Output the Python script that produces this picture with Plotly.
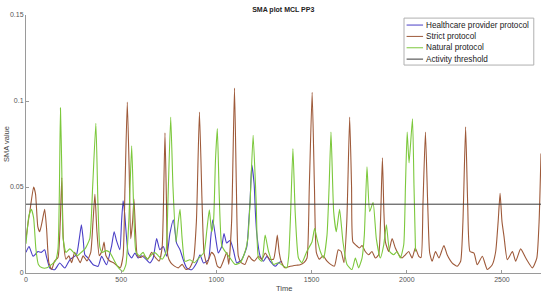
import plotly.graph_objects as go

# data (time, SMA value)
hc_t = [0, 16, 37, 50, 63, 80, 98, 107, 125, 151, 177, 204, 230, 265, 280, 291, 300, 309, 326, 353,
        379, 397, 423, 449, 463, 475, 493, 502, 510, 518, 525, 537, 555, 572, 589, 607, 633, 651, 668, 686,
        703, 721, 739, 756, 774, 791, 809, 826, 844, 870, 896, 914, 932, 958, 970, 981, 998, 1010, 1028, 1040,
        1054, 1072, 1089, 1107, 1133, 1160, 1170, 1177, 1186, 1198, 1205, 1212, 1230, 1247, 1265, 1283, 1309,
        1326, 1345]
hc_v = [0.012, 0.0154, 0.0097, 0.011, 0.0125, 0.012, 0.0135, 0.0097, 0.0029, 0.0019, 0.0058, 0.0029, 0.0077,
        0.0106, 0.02, 0.028, 0.02, 0.0106, 0.0087, 0.0048, 0.0039, 0.0097, 0.0048, 0.0154, 0.024, 0.019, 0.0135,
        0.03, 0.042, 0.035, 0.025, 0.0116, 0.0087, 0.0116, 0.0087, 0.01, 0.0077, 0.0058, 0.0087, 0.02, 0.0135,
        0.0154, 0.0097, 0.023, 0.031, 0.0174, 0.0135, 0.0077, 0.0029, 0.0019, 0.0058, 0.0106, 0.0058, 0.0077,
        0.02, 0.031, 0.019, 0.0116, 0.0154, 0.023, 0.0174, 0.019, 0.0135, 0.0058, 0.0077, 0.0154, 0.03, 0.042,
        0.0627, 0.052, 0.035, 0.023, 0.0097, 0.0068, 0.0097, 0.0068, 0.0039, 0.0058, 0.0068]

strict_t = [0, 12, 23, 40, 50, 62, 72, 85, 98, 108, 120, 135, 150, 168, 180, 188, 196, 210, 225, 240,
            255, 270, 285, 300, 320, 340, 352, 362, 372, 385, 400, 410, 420, 440, 460, 480, 495, 510, 520, 532,
            542, 550, 560, 567, 575, 585, 600, 620, 640, 660, 680, 700, 715, 722, 730, 738, 745, 760, 780, 800,
            820, 840, 860, 880, 895, 911, 925, 935, 950, 960, 975, 990, 1005, 1020, 1040, 1055, 1065, 1080, 1095,
            1105, 1115, 1130, 1150, 1170, 1185, 1200, 1221, 1240, 1256, 1280, 1300, 1312, 1320, 1330, 1340, 1360,
            1388, 1420, 1440, 1460, 1476, 1488, 1503, 1515, 1525, 1540, 1560, 1580, 1600, 1620, 1640, 1655, 1670,
            1685, 1700, 1710, 1717, 1735, 1752, 1765, 1782, 1800, 1817, 1835, 1852, 1862, 1872, 1880, 1888, 1905,
            1923, 1940, 1958, 1975, 1993, 2010, 2028, 2045, 2063, 2075, 2085, 2098, 2110, 2120, 2133, 2151, 2169,
            2195, 2212, 2239, 2265, 2283, 2295, 2309, 2320, 2332, 2353, 2370, 2397, 2423, 2449, 2467, 2480, 2490,
            2500, 2511, 2528, 2555, 2572, 2598, 2625, 2660, 2683, 2695, 2705]
strict_v = [0.02, 0.03, 0.038, 0.05, 0.046, 0.027, 0.024, 0.03, 0.037, 0.026, 0.006, 0.002, 0.007, 0.009, 0.03,
            0.0554, 0.02, 0.008, 0.01, 0.006, 0.012, 0.009, 0.006, 0.01, 0.007, 0.012, 0.03, 0.0457, 0.025, 0.01,
            0.013, 0.018, 0.01, 0.007, 0.006, 0.004, 0.003, 0.01, 0.05, 0.0994, 0.06, 0.02, 0.03, 0.043, 0.025,
            0.01, 0.009, 0.01, 0.008, 0.012, 0.009, 0.007, 0.015, 0.04, 0.0815, 0.04, 0.01, 0.006, 0.004, 0.003,
            0.005, 0.002, 0.003, 0.008, 0.03, 0.0936, 0.04, 0.012, 0.005, 0.008, 0.012, 0.01, 0.004, 0.003, 0.008,
            0.012, 0.005, 0.03, 0.1075, 0.05, 0.01, 0.006, 0.005, 0.01, 0.008, 0.007, 0.0097, 0.008, 0.0116, 0.008,
            0.008, 0.015, 0.022, 0.012, 0.0068, 0.003, 0.0039, 0.0045, 0.0048, 0.006, 0.0087, 0.05, 0.105, 0.05,
            0.012, 0.008, 0.01, 0.007, 0.005, 0.004, 0.0135, 0.0125, 0.006, 0.03, 0.0907, 0.05, 0.018, 0.016,
            0.0145, 0.016, 0.0125, 0.0106, 0.0125, 0.0087, 0.0106, 0.03, 0.067, 0.035, 0.018, 0.0125, 0.02, 0.0145,
            0.0106, 0.0087, 0.0106, 0.0125, 0.0087, 0.0145, 0.0097, 0.009, 0.04, 0.082, 0.04, 0.012, 0.0068,
            0.0125, 0.0087, 0.016, 0.0106, 0.0058, 0.0039, 0.0068, 0.03, 0.085, 0.04, 0.0125, 0.0116, 0.0048,
            0.0097, 0.002, 0.0048, 0.0125, 0.03, 0.0463, 0.03, 0.021, 0.0077, 0.0125, 0.0068, 0.014, 0.0087, 0.003,
            0.0087, 0.03, 0.0695]

natural_t = [0, 15, 28, 40, 52, 65, 85, 110, 135, 155, 168, 175, 181, 188, 195, 210, 230, 250, 270, 290,
             310, 335, 350, 367, 378, 388, 400, 420, 440, 460, 480, 495, 510, 525, 540, 555, 565, 578, 595, 615,
             635, 655, 675, 695, 715, 735, 745, 760, 772, 788, 800, 809, 820, 835, 861, 885, 910, 935, 950, 963,
             975, 985, 995, 1005, 1015, 1028, 1046, 1072, 1098, 1125, 1151, 1165, 1177, 1193, 1209, 1221, 1239,
             1256, 1274, 1300, 1326, 1353, 1370, 1380, 1390, 1402, 1414, 1431, 1449, 1475, 1502, 1516, 1528, 1546,
             1563, 1581, 1592, 1602, 1616, 1630, 1647, 1665, 1686, 1712, 1730, 1747, 1765, 1777, 1791, 1805, 1823,
             1840, 1861, 1879, 1893, 1910, 1931, 1949, 1966, 1984, 1993, 2002, 2012, 2030, 2038, 2046]
natural_v = [0.017, 0.033, 0.037, 0.032, 0.014, 0.005, 0.003, 0.003, 0.005, 0.007, 0.014, 0.045, 0.096, 0.06,
             0.02, 0.012, 0.014, 0.012, 0.01, 0.012, 0.014, 0.02, 0.05, 0.087, 0.04, 0.015, 0.012, 0.013, 0.012,
             0.008, 0.004, 0.002, 0.001, 0.005, 0.03, 0.074, 0.04, 0.012, 0.01, 0.012, 0.008, 0.01, 0.012, 0.01,
             0.008, 0.012, 0.04, 0.0907, 0.05, 0.018, 0.03, 0.037, 0.02, 0.0068, 0.0077, 0.006, 0.009, 0.012, 0.025,
             0.0367, 0.024, 0.03, 0.065, 0.084, 0.045, 0.016, 0.0125, 0.0087, 0.005, 0.006, 0.0125, 0.02, 0.041,
             0.08, 0.041, 0.0087, 0.0068, 0.022, 0.0125, 0.005, 0.006, 0.004, 0.003, 0.01, 0.035, 0.0724, 0.035,
             0.0087, 0.006, 0.0125, 0.018, 0.026, 0.02, 0.0125, 0.0087, 0.022, 0.05, 0.082, 0.0357, 0.024, 0.037,
             0.018, 0.005, 0.002, 0.0087, 0.003, 0.0087, 0.022, 0.0618, 0.0357, 0.041, 0.02, 0.0087, 0.0164, 0.028,
             0.0125, 0.0106, 0.0125, 0.0087, 0.0164, 0.05, 0.082, 0.064, 0.0897, 0.05, 0.0125]

threshold_t = [0, 2705]
threshold_v = [0.04, 0.04]

names = ['Healthcare provider protocol', 'Strict protocol', 'Natural protocol', 'Activity threshold']
colors = ['#4a3fc6', '#9e5a3a', '#7cc83c', '#3a3a3a']

fnt = 'Liberation Sans, Arial, sans-serif'
axcol = '#9a9a9a'

fig = go.Figure()
series = [(hc_t, hc_v), (strict_t, strict_v), (natural_t, natural_v)]
for (t, v), nm, c in zip(series, names, colors):
    fig.add_trace(go.Scatter(x=t, y=v, mode='lines', name=nm,
                             line=dict(color=c, width=1.1, shape='spline', smoothing=0.5)))
fig.add_trace(go.Scatter(x=threshold_t, y=threshold_v, mode='lines', name=names[3],
                         line=dict(color=colors[3], width=1)))

# legend drawn by hand (plotly's items are too tall for this box)
fig.add_shape(type='rect', xref='paper', yref='paper', x0=0.734, x1=0.986, y0=0.806, y1=0.988,
              line=dict(color='#b0b0b0', width=1), fillcolor='white', layer='above')
leg_y = [0.961, 0.917, 0.873, 0.829]
for nm, c, yy in zip(names, colors, leg_y):
    fig.add_shape(type='line', xref='paper', yref='paper', x0=0.739, x1=0.771, y0=yy, y1=yy,
                  line=dict(color=c, width=1), layer='above')
    fig.add_annotation(text=nm, xref='paper', yref='paper', x=0.772, y=yy, xanchor='left', yanchor='middle',
                       showarrow=False, font=dict(family=fnt, size=8.2, color='#222222'))

# axis titles as annotations so the margins stay fixed
fig.add_annotation(text='Time', xref='paper', yref='paper', x=0.5, y=-0.062, xanchor='center', yanchor='middle',
                   showarrow=False, font=dict(family=fnt, size=7.5, color='#444444'))
fig.add_annotation(text='SMA value', xref='paper', yref='paper', x=-0.039, y=0.5, textangle=-90,
                   xanchor='center', yanchor='middle', showarrow=False,
                   font=dict(family=fnt, size=7.5, color='#444444'))

fig.update_layout(
    width=550, height=296,
    margin=dict(l=26, r=9, t=15, b=23),
    paper_bgcolor='white', plot_bgcolor='white',
    font=dict(family=fnt, size=7, color='#555555'),
    title=dict(text='<b>SMA plot MCL PP3</b>', x=0.515, xanchor='center', y=0.968, yanchor='middle',
               font=dict(family=fnt, size=7, color='#222222')),
    showlegend=False,
)
fig.update_xaxes(range=[0, 2705], dtick=500, tick0=0, showgrid=False, zeroline=False, automargin=False,
                 showline=True, linecolor=axcol, linewidth=1, ticks='inside', ticklen=3, tickcolor=axcol)
fig.update_yaxes(range=[0, 0.15], dtick=0.05, tick0=0, showgrid=False, zeroline=False, automargin=False,
                 showline=True, linecolor=axcol, linewidth=1, ticks='inside', ticklen=3, tickcolor=axcol)

# page body has a default 8px margin; drop it so the figure sits at the window corner
fig.write_html("out.html", config={'displayModeBar': False},
               post_script="document.body.style.margin='0';")
